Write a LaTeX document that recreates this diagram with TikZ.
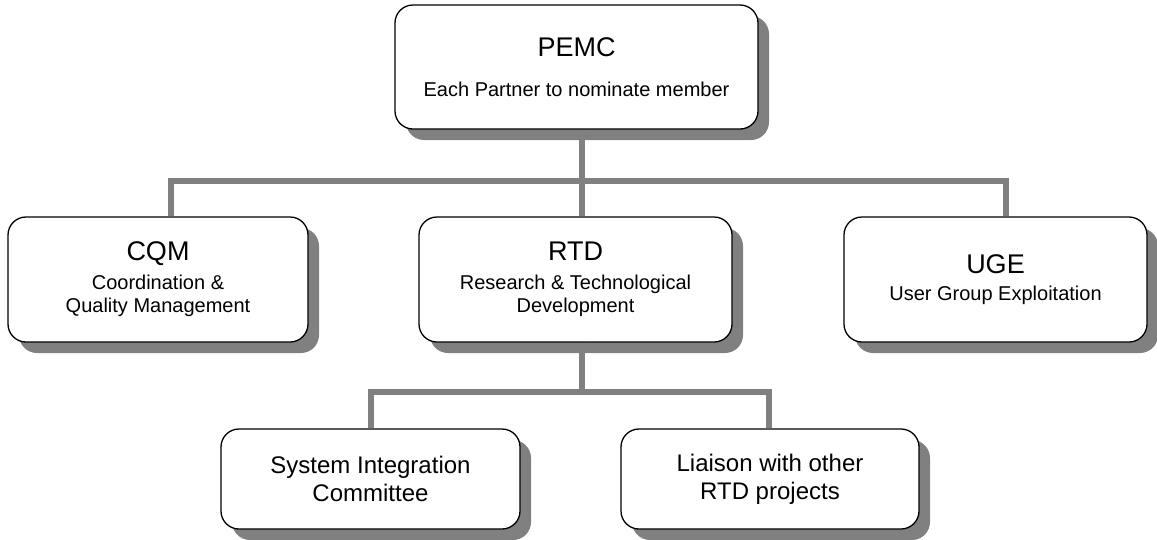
\documentclass[tikz,border=0pt]{standalone}
\usepackage{fontspec}
\setmainfont{Liberation Sans}
\usetikzlibrary{shadows}
\tikzset{
  unit/.style={draw=black, line width=1.3pt, fill=white, rounded corners=18pt,
    align=center, inner sep=0pt, font=\fontsize{20}{23}\selectfont,
    drop shadow={shadow xshift=11pt, shadow yshift=-11pt, fill=gray, opacity=1}},
  subunit/.style={unit, minimum width=299pt, minimum height=100pt,
    font=\fontsize{24}{28}\selectfont},
  link/.style={draw=gray, line width=6pt}
}
\newcommand{\unitname}[1]{{\fontsize{27}{30}\selectfont #1}}
\begin{document}
\begin{tikzpicture}[x=1pt, y=-1pt]
    \useasboundingbox (0,0) rectangle (1157,539);
    \node[unit, minimum width=363pt, minimum height=124pt] (pemc) at (576.5,67)
        {\unitname{PEMC}\\[17pt]Each Partner to nominate member};
    \node[unit, minimum width=300pt, minimum height=125pt] (cqm) at (158,279.5)
        {\unitname{CQM}\\[6pt]Coordination \&\\Quality Management};
    \node[unit, minimum width=313pt, minimum height=125pt] (rtd) at (575.5,279.5)
        {\unitname{RTD}\\[6pt]Research \& Technological\\Development};
    \node[unit, minimum width=303pt, minimum height=125pt] (uge) at (995.5,279.5)
        {\unitname{UGE}\\[4pt]User Group Exploitation};
    \node[subunit] (sic) at (370.5,479) {System Integration\\Committee};
    \node[subunit, minimum width=298pt] (liaison) at (770,479) {Liaison with other\\RTD projects};
    \coordinate (bus) at (582,181);
    \coordinate (subbus) at (582,392);
    \draw[link] ([xshift=5.5pt]pemc.south) -- ([xshift=6.5pt]rtd.north);
    \draw[link] ([xshift=13pt]cqm.north) |- (bus) -| ([xshift=10.5pt]uge.north);
    \draw[link] ([xshift=6.5pt]rtd.south) -- (subbus);
    \draw[link] ([xshift=0.5pt]sic.north) |- (subbus) -| ([xshift=-1pt]liaison.north);
\end{tikzpicture}
\end{document}
